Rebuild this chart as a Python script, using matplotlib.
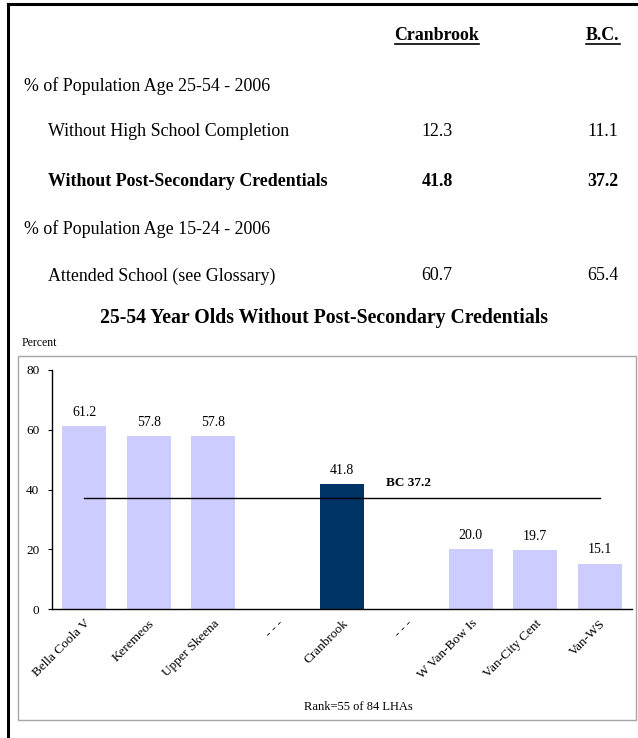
import matplotlib.pyplot as plt
from matplotlib.patches import Rectangle
from matplotlib.lines import Line2D

plt.rcParams["font.family"] = ["Liberation Serif", "DejaVu Serif"]

# ---------------------------
# data
# ---------------------------
header_cols = ["Cranbrook", "B.C."]
table_rows = [
    ("% of Population Age 25-54 - 2006", None, None, "section"),
    ("Without High School Completion", "12.3", "11.1", "normal"),
    ("Without Post-Secondary Credentials", "41.8", "37.2", "bold"),
    ("% of Population Age 15-24 - 2006", None, None, "section"),
    ("Attended School (see Glossary)", "60.7", "65.4", "normal"),
]

categories = ["Bella Coola V", "Keremeos", "Upper Skeena", "- - -", "Cranbrook",
              "- - -", "W Van-Bow Is", "Van-City Cent", "Van-WS"]
values = [61.2, 57.8, 57.8, None, 41.8, None, 20.0, 19.7, 15.1]
highlight = "Cranbrook"
bc_value = 37.2
chart_title = "25-54 Year Olds Without Post-Secondary Credentials"
rank_text = "Rank=55 of 84 LHAs"

W, H = 638, 738
fig = plt.figure(figsize=(W / 100, H / 100), dpi=100)


def fx(x):
    return x / W


def fy(y):
    return 1 - y / H


# page border (top and left only)
fig.add_artist(Line2D([fx(8), fx(638)], [fy(4), fy(4)], color="black", lw=2.2))
fig.add_artist(Line2D([fx(8), fx(8)], [fy(4), fy(738)], color="black", lw=2.2))

# table header
col_x = [437, 603]
fs = 12.9
for x, name in zip(col_x, header_cols):
    t = fig.text(fx(x), fy(35), name, ha="center", va="center",
                 fontsize=fs, fontweight="bold")
    fig.canvas.draw()
    bb = t.get_window_extent()
    fig.add_artist(Line2D([bb.x0 / W, bb.x1 / W], [fy(44), fy(44)],
                          color="black", lw=1.2))

row_y = [86, 131, 181, 229, 276]
for y, (label, v1, v2, kind) in zip(row_y, table_rows):
    weight = "bold" if kind == "bold" else "normal"
    x0 = 24 if kind == "section" else 48
    fig.text(fx(x0), fy(y), label, ha="left", va="center", fontsize=fs,
             fontweight=weight)
    if v1 is not None:
        fig.text(fx(col_x[0]), fy(y), v1, ha="center", va="center",
                 fontsize=fs, fontweight=weight)
        fig.text(fx(col_x[1]), fy(y), v2, ha="center", va="center",
                 fontsize=fs, fontweight=weight)

# chart title and unit
fig.text(fx(324), fy(318), chart_title, ha="center", va="center",
         fontsize=14.2, fontweight="bold")
fig.text(fx(22), fy(343), "Percent", ha="left", va="center", fontsize=8.5)

# gray chart frame
fig.add_artist(Rectangle((fx(18), fy(720)), fx(636) - fx(18), fy(356) - fy(720),
                         fill=False, edgecolor="#a6a6a6", lw=1))

# ---------------------------
# bar chart
# ---------------------------
ax = fig.add_axes([fx(52), fy(609), fx(632) - fx(52), fy(370) - fy(609)])
xs = list(range(len(categories)))
for i, (cat, v) in enumerate(zip(categories, values)):
    if v is None:
        continue
    color = "#003366" if cat == highlight else "#ccccff"
    ax.bar(i, v, width=0.68, color=color, edgecolor="none")
    ax.text(i, v + 2.5, f"{v:.1f}", ha="center", va="bottom", fontsize=10)

ax.plot([xs[0], xs[-1]], [bc_value, bc_value], color="black", lw=1)
ax.text(4.68, bc_value + 5, f"BC {bc_value}", ha="left", va="center",
        fontsize=9.5, fontweight="bold")

ax.set_xlim(-0.5, len(categories) - 0.5)
ax.set_ylim(0, 80)
ax.set_yticks([0, 20, 40, 60, 80])
ax.tick_params(axis="y", length=3, width=0.8, labelsize=9.5, pad=6)
ax.set_xticks(xs)
ax.set_xticklabels(categories, rotation=45, ha="right", rotation_mode="anchor",
                   fontsize=9.5)
ax.tick_params(axis="x", length=0, pad=6)
for s in ["top", "right"]:
    ax.spines[s].set_visible(False)
ax.spines["left"].set_linewidth(1)
ax.spines["bottom"].set_linewidth(1)

fig.text(fx(358), fy(707), rank_text, ha="center", va="center", fontsize=9)

fig.savefig("out.png", dpi=100)
